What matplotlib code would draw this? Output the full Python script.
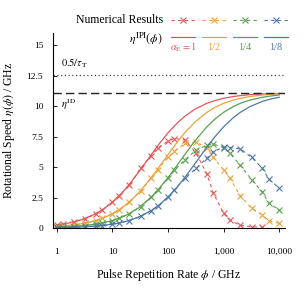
import matplotlib
matplotlib.use("Agg")
import matplotlib.pyplot as plt
from matplotlib.lines import Line2D

plt.rcParams["font.family"] = "serif"
plt.rcParams["font.serif"] = ["Liberation Serif", "DejaVu Serif"]
plt.rcParams["mathtext.fontset"] = "stix"

# analytic model eta^IPI(phi)
phi_model = [1, 1.5, 2, 3, 5, 7, 10, 15, 20, 30, 50, 70, 100, 150, 200, 300,
             500, 700, 1000, 1500, 2000, 3000, 5000, 7000, 10000]
model_red = [0.26, 0.38, 0.51, 0.74, 1.18, 1.59, 2.14, 2.92, 3.58, 4.63, 6.03, 6.94, 7.82,
             8.67, 9.17, 9.74, 10.24, 10.47, 10.65, 10.80, 10.87, 10.95, 11.01, 11.03, 11.05]
model_orange = [0.13, 0.20, 0.26, 0.38, 0.62, 0.85, 1.18, 1.68, 2.14, 2.92, 4.14, 5.05, 6.03,
                7.12, 7.82, 8.67, 9.50, 9.91, 10.24, 10.51, 10.65, 10.80, 10.92, 10.97, 11.01]
model_green = [0.07, 0.10, 0.13, 0.20, 0.32, 0.44, 0.62, 0.91, 1.18, 1.68, 2.55, 3.27, 4.14,
               5.24, 6.03, 7.12, 8.31, 8.95, 9.50, 9.98, 10.24, 10.51, 10.74, 10.84, 10.92]
model_blue = [0.03, 0.05, 0.07, 0.10, 0.16, 0.23, 0.32, 0.47, 0.62, 0.91, 1.44, 1.91, 2.55,
              3.43, 4.14, 5.24, 6.64, 7.50, 8.31, 9.07, 9.50, 9.98, 10.40, 10.59, 10.74]

# numerical results
phi_num = [1, 1.3, 2, 3.2, 5, 6.5, 10, 13, 20, 32, 50, 65, 100, 130, 200, 320,
           500, 650, 1000, 1300, 2000, 3200, 5000, 6500, 10000]
num_red = [0.25, 0.32, 0.50, 0.78, 1.15, 1.45, 2.15, 2.60, 3.50, 4.90, 5.95, 6.55, 7.15,
           7.35, 7.25, 6.15, 4.45, 2.90, 1.20, 0.65, 0.22, 0.11, 0.07]
num_orange = [0.13, 0.17, 0.26, 0.40, 0.62, 0.80, 1.18, 1.50, 2.13, 3.05, 4.10, 4.80, 5.80,
              6.30, 6.95, 7.05, 6.60, 5.80, 4.78, 4.10, 2.66, 1.62, 1.07, 0.58, 0.39]
num_green = [0.07, 0.09, 0.13, 0.21, 0.32, 0.42, 0.62, 0.80, 1.18, 1.77, 2.55, 3.10, 4.10,
             4.75, 5.60, 6.40, 6.80, 6.90, 6.60, 6.15, 5.15, 3.95, 2.95, 2.05, 1.48]
num_blue = [0.03, 0.04, 0.07, 0.10, 0.16, 0.21, 0.32, 0.42, 0.62, 0.97, 1.44, 1.80, 2.55,
            3.10, 4.10, 4.90, 5.75, 6.25, 6.65, 6.60, 6.50, 5.80, 4.90, 4.00, 3.30]

eta_id = 11.1
half_tau = 12.6

colors = ["#e15759", "#e8a33d", "#59a14f", "#4e79a7"]
alpha_labels = [r"$\alpha_{\mathrm{E}}=1$", "1/2", "1/4", "1/8"]
xticks = [1, 10, 100, 1000, 10000]
xticklabels = ["1", "10", "100", "1,000", "10,000"]
yticks = [0, 2.5, 5, 7.5, 10, 12.5, 15]
yticklabels = ["0", "2.5", "5", "7.5", "10", "12.5", "15"]

fig = plt.figure(figsize=(3.06, 2.88), dpi=100)
ax = fig.add_axes([0.173, 0.208, 0.757, 0.677])

models = [model_red, model_orange, model_green, model_blue]
nums = [num_red, num_orange, num_green, num_blue]
for c, m, n in zip(colors, models, nums):
    ax.plot(phi_model, m, color=c, lw=0.9)
    ax.plot(phi_num[:len(n)], n, color=c, lw=0.8, ls=(0, (3, 3)),
            marker="x", ms=4.5, mew=0.8)

ax.axhline(half_tau, color="#444444", lw=0.9, ls=(0, (1, 2)))
ax.axhline(eta_id, color="#222222", lw=1.0, ls=(0, (6, 3)))
ax.text(1.2, 13.55, r"$0.5/\tau_{\mathrm{T}}$", fontsize=7.5, va="center")
ax.text(1.2, 10.1, r"$\eta^{\mathrm{ID}}$", fontsize=7.5, va="center")

ax.set_xscale("log")
ax.set_xlim(0.85, 12500)
ax.set_ylim(0, 16)
ax.set_xticks(xticks)
ax.set_xticklabels(xticklabels)
ax.minorticks_off()
ax.set_yticks(yticks)
ax.set_yticklabels(yticklabels)
ax.tick_params(axis="x", direction="out", length=3, width=0.6, labelsize=6.8, pad=11)
ax.tick_params(axis="y", direction="in", length=3, width=0.6, labelsize=6.8, pad=7)
ax.spines["top"].set_visible(False)
ax.spines["right"].set_visible(False)
for s in ["left", "bottom"]:
    ax.spines[s].set_linewidth(0.8)
ax.set_xlabel(r"Pulse Repetition Rate $\phi$ / GHz", fontsize=8.5, labelpad=8)
ax.set_ylabel(r"Rotational Speed $\eta(\phi)$ / GHz", fontsize=8.5, labelpad=7)

# custom legend above the axes
fig.text(163 / 306, 1 - 20 / 288, "Numerical Results", fontsize=8.5, ha="right", va="center")
fig.text(163 / 306, 1 - 38 / 288, r"$\eta^{\mathrm{IPI}}(\phi)$", fontsize=8.5, ha="right", va="center")
for i, (c, lab) in enumerate(zip(colors, alpha_labels)):
    x0 = (171 + 31 * i) / 306
    x1 = x0 + 24 / 306
    y_num = 1 - 20 / 288
    y_mod = 1 - 37 / 288
    fig.add_artist(Line2D([x0, x1], [y_num, y_num], color=c, lw=0.8, ls=(0, (3, 3))))
    fig.add_artist(Line2D([(x0 + x1) / 2], [y_num], color=c, marker="x", ms=4.5, mew=0.8))
    fig.add_artist(Line2D([x0, x1], [y_mod, y_mod], color=c, lw=0.9))
    fig.text((x0 + x1) / 2, 1 - 47 / 288, lab, fontsize=7.5, color=c, ha="center", va="center")

fig.savefig("out.png", dpi=100)
